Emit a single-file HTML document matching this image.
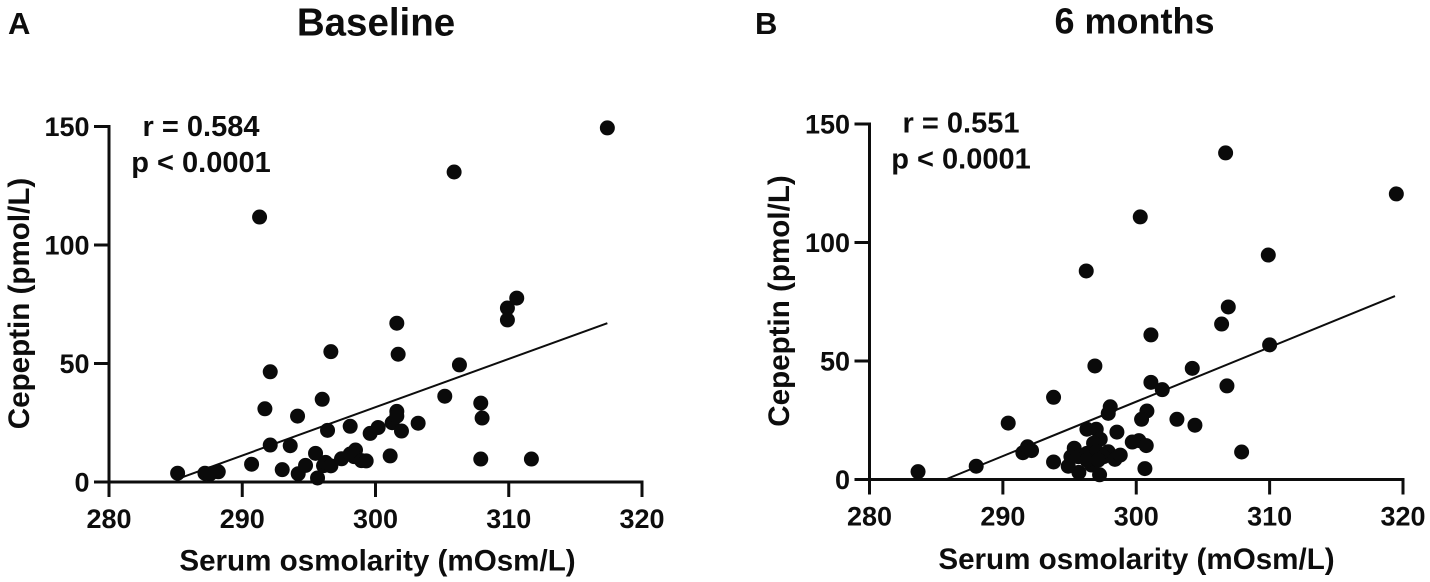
<!DOCTYPE html>
<html lang="en">
<head>
<meta charset="utf-8">
<title>Cepeptin vs serum osmolarity</title>
<style>
html,body{margin:0;padding:0;background:#fff;width:1430px;height:582px;overflow:hidden}
svg{display:block}
text{font-family:"Liberation Sans",Arial,sans-serif;font-weight:700;fill:#0d0d0d}
.tick{font-size:27px}
.axt{font-size:29.6px}
.pan{font-size:31px}
.st{font-size:29px}
</style>
</head>
<body>
<svg id="fig" width="1430" height="582" viewBox="0 0 1430 582" xmlns="http://www.w3.org/2000/svg"></svg>
<script>
const xTicks = [280, 290, 300, 310, 320];
const yTicks = [0, 50, 100, 150];

const baselineOsm = [285.15,287.2,287.6,288.2,290.7,293.0,294.2,294.75,295.65,295.5,296.1,296.25,296.65,297.45,298.1,298.5,298.4,298.95,299.3,299.6,300.2,301.1,301.25,301.6,301.6,301.95,303.2,305.2,292.1,293.6,296.4,298.1,291.7,294.15,296.0,292.1,296.65,301.7,306.3,309.9,310.6,309.9,307.9,308.0,307.9,311.7,301.6,305.9,291.3,317.4];
const baselineCep = [3.7,3.7,3.5,4.3,7.5,5.2,3.5,7.0,1.7,12.1,6.9,8.3,6.8,9.8,11.8,13.5,10.7,9.0,8.9,20.5,23.0,11.0,25.0,29.8,27.8,21.5,24.8,36.2,15.6,15.3,21.8,23.5,30.9,27.8,34.9,46.5,55.0,53.9,49.4,73.4,77.6,68.4,33.3,27.0,9.7,9.7,67.0,130.8,111.8,149.4];
const baselineFitX = [285.15, 317.4];
const baselineFitY = [1.3, 67];

const sixMonthOsm = [283.64,288.0,290.4,291.5,291.85,292.15,293.8,293.8,296.9,301.1,301.95,304.2,298.05,297.9,300.8,300.4,303.05,304.4,298.55,299.7,300.2,300.75,300.65,297.25,295.7,294.9,295.1,295.35,295.65,296.3,297.0,297.3,296.8,296.3,297.05,297.9,297.55,296.65,296.3,298.4,298.8,297.15,296.25,300.3,306.7,319.5,309.9,306.9,301.1,306.4,310.0,306.8,307.9];
const sixMonthCep = [3.3,5.6,23.8,11.3,13.8,12.2,7.4,34.7,47.9,41.0,37.9,46.9,30.7,27.9,28.9,25.4,25.4,22.9,20.0,15.8,16.4,14.3,4.6,2.0,3.0,5.6,9.6,13.2,9.6,21.2,21.2,17.0,15.3,11.0,11.7,11.7,9.6,6.1,8.2,8.5,10.3,8.2,88.0,110.8,137.8,120.5,94.7,72.8,61.0,65.6,56.8,39.5,11.6];
const sixMonthFitX = [285.7, 319.4];
const sixMonthFitY = [0, 77.4];

const NS = 'http://www.w3.org/2000/svg';
const fig = document.getElementById('fig');

function mk(tag, attrs, parent, txt) {
  const el = document.createElementNS(NS, tag);
  for (const k in attrs) el.setAttribute(k, attrs[k]);
  if (txt !== undefined) el.textContent = txt;
  parent.appendChild(el);
  return el;
}

function panel(cfg) {
  const g = mk('g', {}, fig);
  
  

  const sx = v => cfg.x0 + (v - 280) * (cfg.x1 - cfg.x0) / 40;
  const sy = v => cfg.y0 + v * (cfg.y1 - cfg.y0) / 150;

  const panelLabel = mk('text', {x: cfg.labelX, y: 34, class: 'pan'}, g, cfg.label);
  
  

  const title = mk('text', {x: cfg.titleX, y: cfg.titleY, 'font-size': cfg.titleSize, 'text-anchor': 'middle'}, g, cfg.title);
  
  

  const axes = mk('path', {
    d: 'M' + sx(280) + ' ' + (sy(150) - 1.5) + 'V' + sy(0) + 'M' + sx(280) + ' ' + sy(0) + 'H' + (sx(320) + 1.5),
    fill: 'none', stroke: '#0d0d0d', 'stroke-width': 3
  }, g);
  
  

  xTicks.forEach(t => {
    const tick = mk('line', {x1: sx(t), x2: sx(t), y1: sy(0), y2: sy(0) + 15, stroke: '#0d0d0d', 'stroke-width': 3}, g);
    
    
    const lab = mk('text', {x: sx(t), y: sy(0) + 46, class: 'tick', 'text-anchor': 'middle'}, g, t);
    
    
  });

  yTicks.forEach(t => {
    const tick = mk('line', {x1: sx(280) - 15, x2: sx(280), y1: sy(t), y2: sy(t), stroke: '#0d0d0d', 'stroke-width': 3}, g);
    
    
    const lab = mk('text', {x: sx(280) - 19.5, y: sy(t) + 9.5, class: 'tick', 'text-anchor': 'end'}, g, t);
    
    
  });

  const xt = mk('text', {x: cfg.xTitleX, y: cfg.xTitleY, class: 'axt', 'text-anchor': 'middle'}, g, 'Serum osmolarity (mOsm/L)');
  
  

  const yt = mk('text', {
    x: 0, y: 0, class: 'axt', 'text-anchor': 'middle',
    transform: 'translate(' + cfg.yTitleX + ' ' + cfg.yTitleY + ') rotate(-90)'
  }, g, 'Cepeptin (pmol/L)');
  
  

  const st1 = mk('text', {x: cfg.statX, y: cfg.statY, class: 'st', 'text-anchor': 'middle'}, g, cfg.r);
  
  
  const st2 = mk('text', {x: cfg.statX, y: cfg.statY + 36, class: 'st', 'text-anchor': 'middle'}, g, 'p < 0.0001');
  
  

  const fit = mk('line', {
    x1: sx(cfg.fitX[0]), y1: sy(cfg.fitY[0]),
    x2: sx(cfg.fitX[1]), y2: sy(cfg.fitY[1]),
    stroke: '#0d0d0d', 'stroke-width': 2
  }, g);
  
  

  cfg.xs.forEach((v, i) => {
    const dot = mk('circle', {cx: sx(v), cy: sy(cfg.ys[i]), r: 7.5, fill: '#0a0a0a'}, g);
    
    
  });
}

panel({
  id: 'baseline', label: 'A', labelX: 8, title: 'Baseline', titleX: 376, titleY: 35.5, titleSize: 38.5,
  x0: 109, x1: 642, y0: 482, y1: 126.5,
  xTitleX: 377.5, xTitleY: 570.5, yTitleX: 29, yTitleY: 303.5,
  statX: 201, statY: 136, r: 'r = 0.584',
  xs: baselineOsm, ys: baselineCep, fitX: baselineFitX, fitY: baselineFitY
});

panel({
  id: 'six-months', label: 'B', labelX: 755, title: '6 months', titleX: 1134.5, titleY: 33.5, titleSize: 36,
  x0: 869.5, x1: 1403, y0: 479.5, y1: 124,
  xTitleX: 1136.5, xTitleY: 569, yTitleX: 789, yTitleY: 301,
  statX: 961, statY: 132.5, r: 'r = 0.551',
  xs: sixMonthOsm, ys: sixMonthCep, fitX: sixMonthFitX, fitY: sixMonthFitY
});
</script>
</body>
</html>
